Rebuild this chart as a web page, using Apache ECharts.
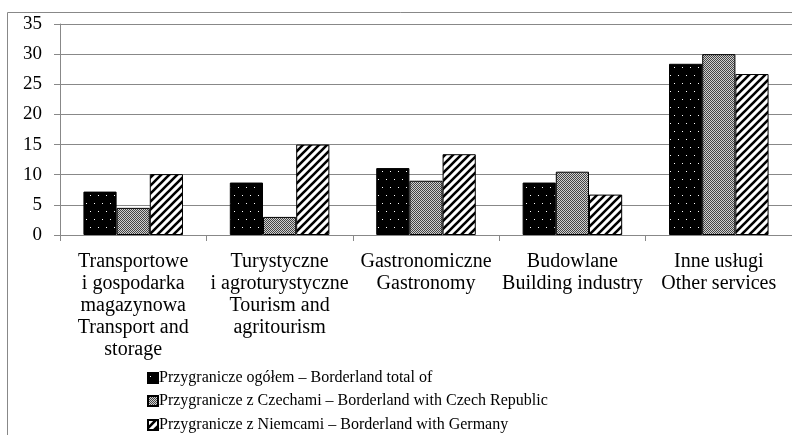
<!DOCTYPE html>
<html>
<head>
<meta charset="utf-8">
<script src="https://cdn.jsdelivr.net/npm/echarts@6/dist/echarts.min.js"></script>
<style>
  html, body { margin: 0; padding: 0; background: #fff; }
  #chart { width: 792px; height: 435px; }
</style>
</head>
<body>
<div id="chart"></div>
<script>
// categories and values
var categories = [
  'Transportowe\ni gospodarka\nmagazynowa\nTransport and\nstorage',
  'Turystyczne\ni agroturystyczne\nTourism and\nagritourism',
  'Gastronomiczne\nGastronomy',
  'Budowlane\nBuilding industry',
  'Inne usługi\nOther services'
];
var seriesNames = [
  'Przygranicze ogółem – Borderland total of',
  'Przygranicze z Czechami – Borderland with Czech Republic',
  'Przygranicze z Niemcami – Borderland with Germany'
];
var totalValues = [7.2, 8.7, 11.1, 8.7, 28.4];
var czechValues = [4.5, 3.0, 9.0, 10.5, 30.0];
var germanyValues = [10.1, 15.0, 13.4, 6.7, 26.7];

// fill patterns (dots, fine grey, diagonal hatch)
function dotPattern() {
  var c = document.createElement('canvas');
  c.width = 8; c.height = 16;
  var ctx = c.getContext('2d');
  ctx.fillStyle = '#000';
  ctx.fillRect(0, 0, 8, 16);
  ctx.fillStyle = '#fff';
  ctx.fillRect(2, 3, 1, 1);
  ctx.fillRect(6, 11, 1, 1);
  return c;
}
function greyPattern() {
  var c = document.createElement('canvas');
  c.width = 2; c.height = 2;
  var ctx = c.getContext('2d');
  ctx.fillStyle = '#d0d0d0';
  ctx.fillRect(0, 0, 2, 2);
  ctx.fillStyle = '#444';
  ctx.fillRect(0, 0, 1, 1);
  ctx.fillRect(1, 1, 1, 1);
  return c;
}
function hatchPattern() {
  var s = 8;
  var c = document.createElement('canvas');
  c.width = s; c.height = s;
  var ctx = c.getContext('2d');
  ctx.fillStyle = '#fff';
  ctx.fillRect(0, 0, s, s);
  ctx.strokeStyle = '#000';
  ctx.lineWidth = 2.6;
  ctx.beginPath();
  ctx.moveTo(-2, s + 2); ctx.lineTo(s + 2, -2);
  ctx.moveTo(-2, 2); ctx.lineTo(2, -2);
  ctx.moveTo(s - 2, s + 2); ctx.lineTo(s + 2, s - 2);
  ctx.stroke();
  return c;
}

var font = 'Liberation Serif';
var patterns = [dotPattern(), greyPattern(), hatchPattern()];
var chart = echarts.init(document.getElementById('chart'));

function barSeries(name, data, pattern) {
  return {
    name: name,
    type: 'bar',
    data: data,
    barGap: 0,
    barCategoryGap: '32%',
    itemStyle: {
      color: { image: pattern, repeat: 'repeat' },
      borderColor: '#000',
      borderWidth: 1
    }
  };
}

// one legend per row so they stack without wrapping
var legendTops = [370, 393, 417];
var legends = seriesNames.map(function (n, i) {
  return {
    data: [n],
    left: 147,
    top: legendTops[i],
    itemWidth: 10,
    itemHeight: 10,
    itemGap: 0,
    padding: 0,
    icon: 'rect',
    textStyle: { fontFamily: font, fontSize: 16, color: '#000', padding: [0, 0, 0, -4] }
  };
});

var option = {
  animation: false,
  graphic: [{
    type: 'rect',
    shape: { x: 7.5, y: 12.5, width: 820, height: 450 },
    style: { fill: 'none', stroke: '#888', lineWidth: 1 },
    z: -1
  }],
  grid: { left: 60, top: 24, bottom: 200, width: 740 },
  legend: legends,
  xAxis: {
    type: 'category',
    data: categories,
    axisLine: { lineStyle: { color: '#888', width: 1 } },
    axisTick: { show: true, length: 6, lineStyle: { color: '#888' } },
    axisLabel: {
      interval: 0,
      margin: 16,
      fontFamily: font,
      fontSize: 20,
      lineHeight: 22,
      color: '#000',
      align: 'center'
    }
  },
  yAxis: {
    type: 'value',
    min: 0,
    max: 35,
    interval: 5,
    axisLine: { show: true, lineStyle: { color: '#888', width: 1 } },
    axisTick: { show: true, length: 6, lineStyle: { color: '#888' } },
    splitLine: { lineStyle: { color: '#888', width: 1 } },
    axisLabel: { margin: 18, fontFamily: font, fontSize: 19, color: '#000' }
  },
  series: [
    barSeries(seriesNames[0], totalValues, patterns[0]),
    barSeries(seriesNames[1], czechValues, patterns[1]),
    barSeries(seriesNames[2], germanyValues, patterns[2])
  ]
};
chart.setOption(option);
</script>
</body>
</html>
